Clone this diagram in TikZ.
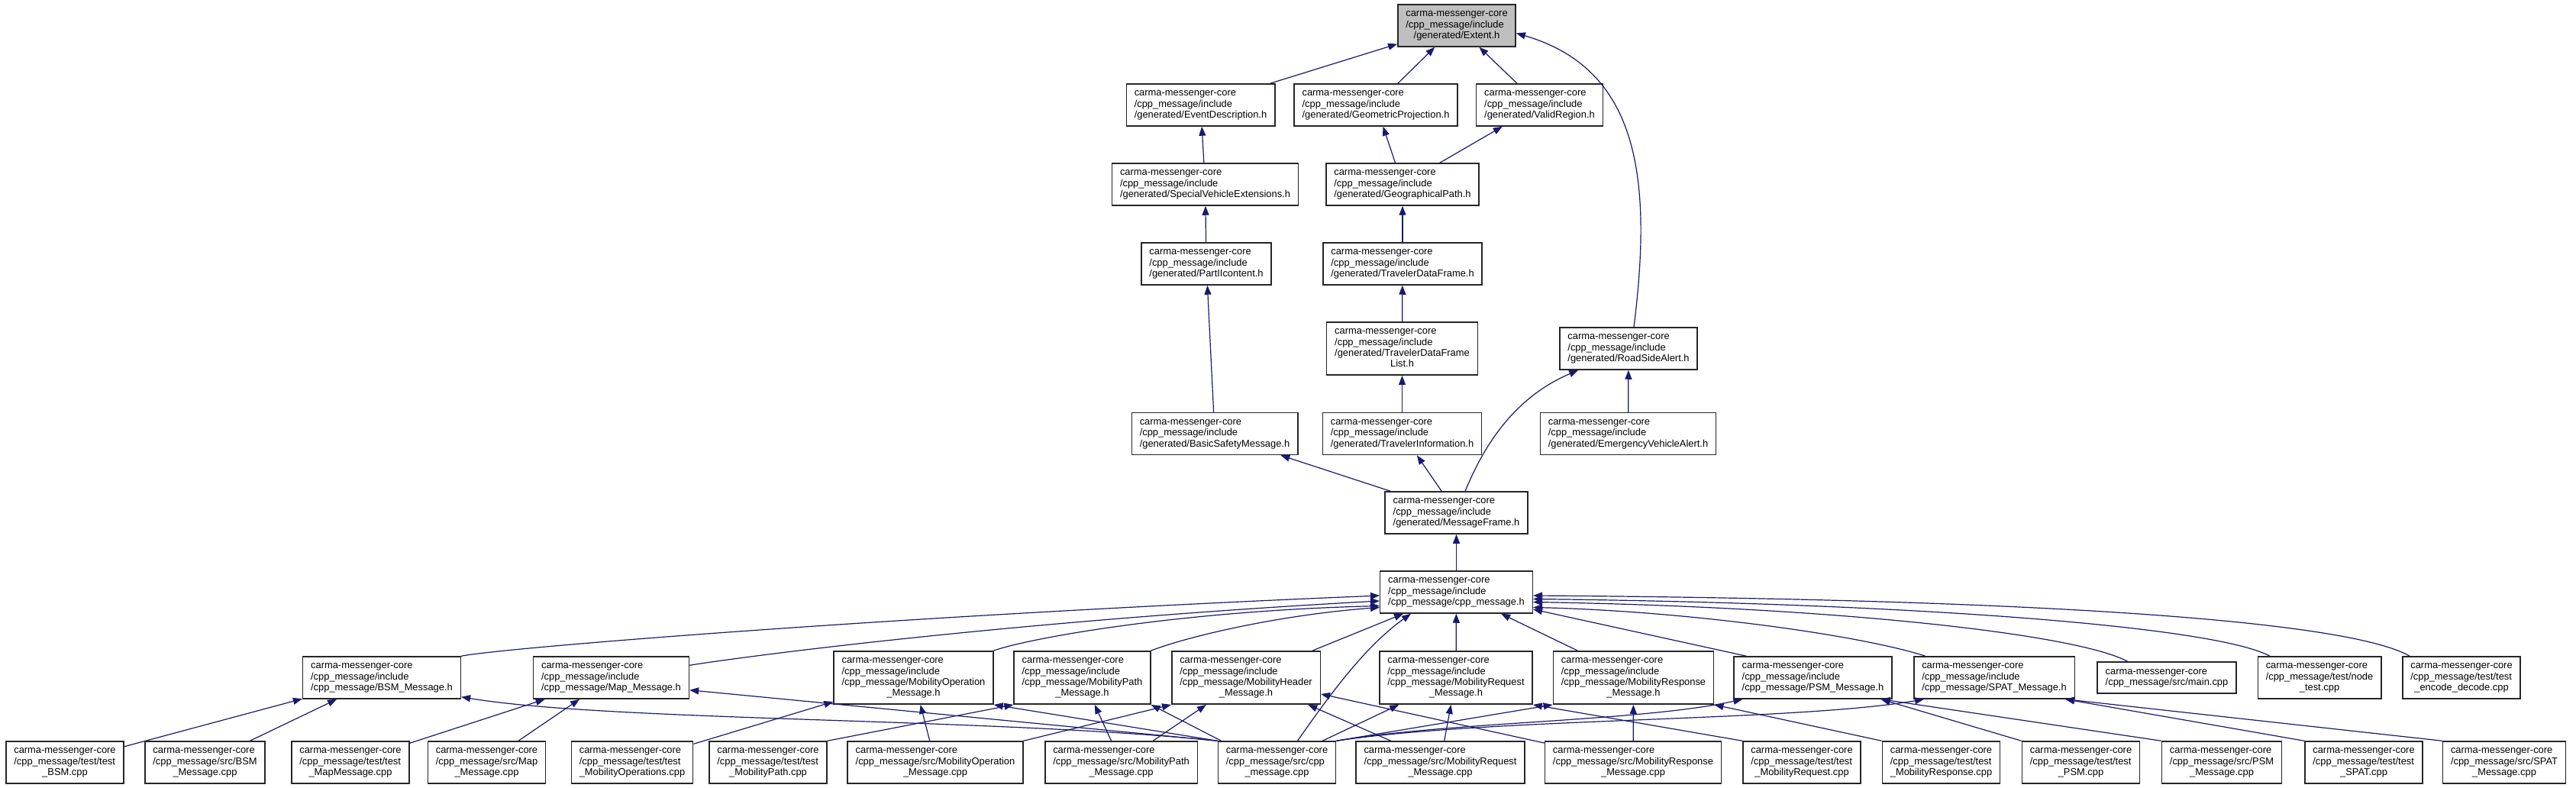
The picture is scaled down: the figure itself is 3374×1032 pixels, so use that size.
\documentclass[tikz,border=0pt]{standalone}
\usepackage{fontspec}
\setmainfont{Liberation Sans}
\usetikzlibrary{arrows.meta}
\definecolor{edgeblue}{RGB}{25,25,112}
\definecolor{rootgray}{RGB}{191,191,191}
\newcommand{\cmcore}{carma-messenger-core}
\newcommand{\incdir}{/cpp\_message/include}
\newcommand{\boxlabel}[2]{\begin{tabular}{@{}l@{}}#1\\\multicolumn{1}{@{}c@{}}{#2}\end{tabular}}

\begin{document}
\begin{tikzpicture}[x=1pt, y=-1pt, >={Triangle[length=12pt,width=9pt]},
	file/.style={draw=black!85, line width=1.5pt, fill=white, inner xsep=10.5pt, inner ysep=5.9pt, font=\fontsize{12.9}{14.4}\selectfont},
	root/.style={file, fill=rootgray},
	edge/.style={draw=edgeblue, line width=1.2pt, ->}]
	\fill[white] (0,0) rectangle (3374,1032);
	\useasboundingbox (0,0) rectangle (3374,1032);

	\node[root] (extent) at (1908,33.5) {\boxlabel{\cmcore\\\incdir}{/generated/Extent.h}};
	\node[file] (eventdesc) at (1572.5,137.5) {\boxlabel{\cmcore\\\incdir}{/generated/EventDescription.h}};
	\node[file] (geoproj) at (1802,137.5) {\boxlabel{\cmcore\\\incdir}{/generated/GeometricProjection.h}};
	\node[file] (validreg) at (2016.5,137.5) {\boxlabel{\cmcore\\\incdir}{/generated/ValidRegion.h}};
	\node[file] (specveh) at (1578.5,241.5) {\boxlabel{\cmcore\\\incdir}{/generated/SpecialVehicleExtensions.h}};
	\node[file] (geopath) at (1837,241.5) {\boxlabel{\cmcore\\\incdir}{/generated/GeographicalPath.h}};
	\node[file] (partii) at (1580,345.5) {\boxlabel{\cmcore\\\incdir}{/generated/PartIIcontent.h}};
	\node[file] (travdf) at (1837,345.5) {\boxlabel{\cmcore\\\incdir}{/generated/TravelerDataFrame.h}};
	\node[file] (travdflist) at (1836.5,456.5) {\boxlabel{\cmcore\\\incdir\\/generated/TravelerDataFrame}{List.h}};
	\node[file] (roadside) at (2133,456.5) {\boxlabel{\cmcore\\\incdir}{/generated/RoadSideAlert.h}};
	\node[file] (basicsafety) at (1591,568) {\boxlabel{\cmcore\\\incdir}{/generated/BasicSafetyMessage.h}};
	\node[file] (travinfo) at (1836.5,568) {\boxlabel{\cmcore\\\incdir}{/generated/TravelerInformation.h}};
	\node[file] (emergency) at (2132.5,568) {\boxlabel{\cmcore\\\incdir}{/generated/EmergencyVehicleAlert.h}};
	\node[file] (msgframe) at (1907.5,671.5) {\boxlabel{\cmcore\\\incdir}{/generated/MessageFrame.h}};
	\node[file] (cpph) at (1907.5,775.5) {\boxlabel{\cmcore\\\incdir}{/cpp\_message/cpp\_message.h}};

	\node[file] (bsmh) at (500,887.5) {\boxlabel{\cmcore\\\incdir}{/cpp\_message/BSM\_Message.h}};
	\node[file] (maph) at (800.5,887.5) {\boxlabel{\cmcore\\\incdir}{/cpp\_message/Map\_Message.h}};
	\node[file] (mobop) at (1196.5,887.5) {\boxlabel{\cmcore\\\incdir\\/cpp\_message/MobilityOperation}{\_Message.h}};
	\node[file] (mobpath) at (1417.5,887.5) {\boxlabel{\cmcore\\\incdir\\/cpp\_message/MobilityPath}{\_Message.h}};
	\node[file] (mobhdr) at (1632,887.5) {\boxlabel{\cmcore\\\incdir\\/cpp\_message/MobilityHeader}{\_Message.h}};
	\node[file] (mobreq) at (1907,887.5) {\boxlabel{\cmcore\\\incdir\\/cpp\_message/MobilityRequest}{\_Message.h}};
	\node[file] (mobresp) at (2139.5,887.5) {\boxlabel{\cmcore\\\incdir\\/cpp\_message/MobilityResponse}{\_Message.h}};
	\node[file] (psmh) at (2374.5,887.5) {\boxlabel{\cmcore\\\incdir}{/cpp\_message/PSM\_Message.h}};
	\node[file] (spath) at (2612,887.5) {\boxlabel{\cmcore\\\incdir}{/cpp\_message/SPAT\_Message.h}};
	\node[file] (maincpp) at (2838,887.5) {\boxlabel{\cmcore}{/cpp\_message/src/main.cpp}};
	\node[file] (nodetest) at (3038,887.5) {\boxlabel{\cmcore\\/cpp\_message/test/node}{\_test.cpp}};
	\node[file] (encdec) at (3224,887.5) {\boxlabel{\cmcore\\/cpp\_message/test/test}{\_encode\_decode.cpp}};

	\node[file] (tbsm) at (85,998.5) {\boxlabel{\cmcore\\/cpp\_message/test/test}{\_BSM.cpp}};
	\node[file] (sbsm) at (268.5,998.5) {\boxlabel{\cmcore\\/cpp\_message/src/BSM}{\_Message.cpp}};
	\node[file] (tmap) at (459,998.5) {\boxlabel{\cmcore\\/cpp\_message/test/test}{\_MapMessage.cpp}};
	\node[file] (smap) at (637.5,998.5) {\boxlabel{\cmcore\\/cpp\_message/src/Map}{\_Message.cpp}};
	\node[file] (tmobop) at (828,998.5) {\boxlabel{\cmcore\\/cpp\_message/test/test}{\_MobilityOperations.cpp}};
	\node[file] (tmobpath) at (1006,998.5) {\boxlabel{\cmcore\\/cpp\_message/test/test}{\_MobilityPath.cpp}};
	\node[file] (smobop) at (1225,998.5) {\boxlabel{\cmcore\\/cpp\_message/src/MobilityOperation}{\_Message.cpp}};
	\node[file] (smobpath) at (1468.5,998.5) {\boxlabel{\cmcore\\/cpp\_message/src/MobilityPath}{\_Message.cpp}};
	\node[file] (scpp) at (1672.5,998.5) {\boxlabel{\cmcore\\/cpp\_message/src/cpp}{\_message.cpp}};
	\node[file] (smobreq) at (1886.5,998.5) {\boxlabel{\cmcore\\/cpp\_message/src/MobilityRequest}{\_Message.cpp}};
	\node[file] (smobresp) at (2139,998.5) {\boxlabel{\cmcore\\/cpp\_message/src/MobilityResponse}{\_Message.cpp}};
	\node[file] (tmobreq) at (2360,998.5) {\boxlabel{\cmcore\\/cpp\_message/test/test}{\_MobilityRequest.cpp}};
	\node[file] (tmobresp) at (2542.5,998.5) {\boxlabel{\cmcore\\/cpp\_message/test/test}{\_MobilityResponse.cpp}};
	\node[file] (tpsm) at (2725.5,998.5) {\boxlabel{\cmcore\\/cpp\_message/test/test}{\_PSM.cpp}};
	\node[file] (spsm) at (2910,998.5) {\boxlabel{\cmcore\\/cpp\_message/src/PSM}{\_Message.cpp}};
	\node[file] (tspat) at (3096,998.5) {\boxlabel{\cmcore\\/cpp\_message/test/test}{\_SPAT.cpp}};
	\node[file] (sspat) at (3280,998.5) {\boxlabel{\cmcore\\/cpp\_message/src/SPAT}{\_Message.cpp}};

	\draw[edge] (eventdesc) -- (extent);
	\draw[edge] (geoproj) -- (extent);
	\draw[edge] (validreg) -- (extent);
	\draw[edge] ([xshift=7pt]roadside.north) .. controls (2165,230) and (2145,90) .. ([yshift=-10pt]extent.east);
	\draw[edge] (specveh) -- (eventdesc);
	\draw[edge] (geopath) -- (geoproj);
	\draw[edge] (geopath) -- (validreg);
	\draw[edge] (partii) -- (specveh);
	\draw[edge] (travdf) -- (geopath);
	\draw[edge] (basicsafety) -- (partii);
	\draw[edge] (travdflist) -- (travdf);
	\draw[edge] (travinfo) -- (travdflist);
	\draw[edge] (emergency) -- (roadside);
	\draw[edge] (msgframe) -- (basicsafety);
	\draw[edge] (msgframe) -- (travinfo);
	\draw[edge] (msgframe) .. controls (1945,580) and (1985,520) .. (roadside);
	\draw[edge] (cpph) -- (msgframe);

	\draw[edge] (bsmh.north east) .. controls (660,848) and (1200,805) .. ([yshift=-4.5pt]cpph.west);
	\draw[edge] ([yshift=-12pt]maph.north east) .. controls (1000,856) and (1350,812) .. ([yshift=-11.5pt]cpph.west);
	\draw[edge] (mobop.north east) .. controls (1350,835) and (1550,800) .. ([yshift=-18pt]cpph.west);
	\draw[edge] (mobpath.north east) .. controls (1560,832) and (1680,805) .. ([yshift=-20pt]cpph.west);
	\draw[edge] (mobhdr) -- (cpph);
	\draw[edge] ([xshift=27pt]scpp.north) .. controls (1745,905) and (1790,845) .. ([xshift=-59.5pt]cpph.south);
	\draw[edge] (mobreq) -- (cpph);
	\draw[edge] (mobresp) -- (cpph);
	\draw[edge] ([xshift=-87pt]psmh.north) -- ([yshift=-22.5pt]cpph.east);
	\draw[edge] ([xshift=-90pt]spath.north) .. controls (2430,830) and (2200,800) .. ([yshift=-20pt]cpph.east);
	\draw[edge] ([xshift=-51pt]maincpp.north) .. controls (2720,830) and (2400,795) .. ([yshift=-13pt]cpph.east);
	\draw[edge] ([xshift=-65pt]nodetest.north) .. controls (2900,820) and (2500,790) .. ([yshift=-9pt]cpph.east);
	\draw[edge] ([xshift=-68pt]encdec.north) .. controls (3080,815) and (2700,785) .. ([yshift=-4.5pt]cpph.east);

	\draw[edge] (tbsm) -- (bsmh);
	\draw[edge] (sbsm) -- (bsmh);
	\draw[edge] (tmap) -- (maph);
	\draw[edge] (smap) -- (maph);
	\draw[edge] (tmobop) -- (mobop);
	\draw[edge] (tmobpath.north east) -- (mobpath.south west);
	\draw[edge] (smobop) -- (mobop);
	\draw[edge] (smobop) -- (mobhdr.south west);
	\draw[edge] (smobpath) -- (mobpath);
	\draw[edge] (smobpath) -- (mobhdr);
	\draw[edge] (scpp.north west) .. controls (1300,940) and (800,945) .. ([yshift=3pt]bsmh.south east);
	\draw[edge] (scpp.north west) -- ([yshift=12pt]maph.south east);
	\draw[edge] (scpp.north west) -- (mobop.south east);
	\draw[edge] ([xshift=5pt]scpp.north west) -- (mobpath.south east);
	\draw[edge] (scpp) -- (mobreq);
	\draw[edge] (scpp.north east) -- (mobresp.south west);
	\draw[edge] (scpp.north east) .. controls (1900,945) and (2150,945) .. ([xshift=12pt]psmh.south west);
	\draw[edge] (scpp.north east) .. controls (1950,940) and (2350,945) .. ([xshift=14pt]spath.south west);
	\draw[edge] (smobreq) -- (mobreq);
	\draw[edge] (smobreq) -- (mobhdr);
	\draw[edge] (smobresp) -- (mobresp);
	\draw[edge] (smobresp) -- (mobhdr);
	\draw[edge] (tmobreq.north west) -- (mobreq.south east);
	\draw[edge] (tmobresp.north west) -- (mobresp.south east);
	\draw[edge] (tpsm.north west) -- ([xshift=-15pt]psmh.south east);
	\draw[edge] (spsm.north west) -- ([xshift=-15pt]psmh.south east);
	\draw[edge] (tspat.north west) -- ([xshift=-13pt]spath.south east);
	\draw[edge] (sspat.north west) -- ([xshift=-13pt]spath.south east);
\end{tikzpicture}
\end{document}
